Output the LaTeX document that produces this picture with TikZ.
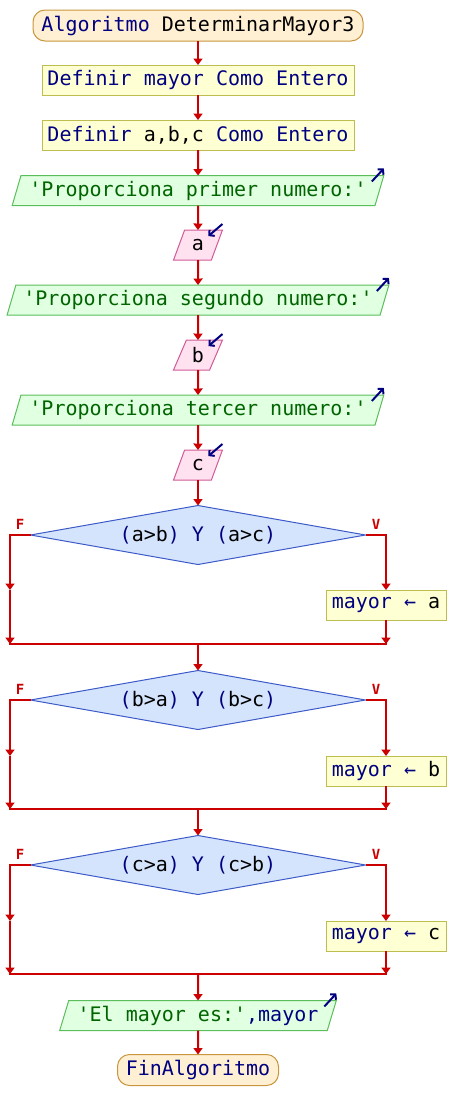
\documentclass[tikz,border=0pt]{standalone}
\usepackage{fontspec}
\setmonofont{DejaVu Sans Mono}
\usetikzlibrary{shapes.geometric,arrows.meta}
\definecolor{kwc}{RGB}{0,0,128}
\definecolor{strc}{RGB}{0,100,0}
\definecolor{flowc}{RGB}{204,0,0}
\definecolor{termf}{RGB}{255,240,212}
\definecolor{termd}{RGB}{200,150,60}
\definecolor{procf}{RGB}{255,255,212}
\definecolor{procd}{RGB}{190,190,80}
\definecolor{outf}{RGB}{225,255,225}
\definecolor{outd}{RGB}{90,190,90}
\definecolor{inpf}{RGB}{255,225,240}
\definecolor{inpd}{RGB}{210,90,150}
\definecolor{condf}{RGB}{212,228,252}
\definecolor{condd}{RGB}{60,90,200}
\newcommand\kw[1]{\textcolor{kwc}{#1}}
\newcommand\strg[1]{\textcolor{strc}{#1}}
\begin{document}
\begin{tikzpicture}[x=1pt,y=-1pt,
  font=\ttfamily\fontsize{20}{22}\selectfont,
  base/.style={inner sep=0pt, outer sep=0pt, line width=1pt, text=black},
  term/.style={base, draw=termd, fill=termf, rounded corners=12pt, minimum height=31pt},
  proc/.style={base, draw=procd, fill=procf, minimum height=30pt},
  outp/.style={base, trapezium, trapezium left angle=66.6, trapezium right angle=113.4,
    trapezium stretches=true, draw=outd, fill=outf, minimum height=30pt},
  inp/.style={base, trapezium, trapezium left angle=66.6, trapezium right angle=113.4,
    trapezium stretches=true, draw=inpd, fill=inpf, minimum height=30pt},
  cond/.style={base, diamond, aspect=5.7, draw=condd, fill=condf,
    minimum width=335pt, minimum height=59pt},
  flow/.style={draw=flowc, line width=2pt, -{Triangle[width=9pt,length=6.5pt]}},
  joinline/.style={draw=flowc, line width=2pt, line cap=rect},
  iconarr/.style={draw=kwc, line width=2pt, -{Straight Barb[length=3.5pt,width=8pt]}},
  lbl/.style={text=flowc, font=\ttfamily\bfseries\fontsize{14}{14}\selectfont}
]
\useasboundingbox (0,0) rectangle (456,1120);

\node[term, minimum width=330pt] (start) at (198,25.5) {\kw{Algoritmo} DeterminarMayor3};
\node[proc, minimum width=312pt] (d1) at (198,80) {\kw{Definir mayor Como Entero}};
\node[proc, minimum width=312pt] (d2) at (198,135) {\kw{Definir} a,b,c \kw{Como Entero}};
\node[outp, minimum width=372pt] (o1) at (198,190.5) {\strg{'Proporciona primer numero:'}};
\node[inp, minimum width=49pt] (i1) at (198,245) {a};
\node[outp, minimum width=384pt] (o2) at (198,300) {\strg{'Proporciona segundo numero:'}};
\node[inp, minimum width=49pt] (i2) at (198,355) {b};
\node[outp, minimum width=372pt] (o3) at (198,410) {\strg{'Proporciona tercer numero:'}};
\node[inp, minimum width=49pt] (i3) at (198,465) {c};

\node[cond] (q1) at (198,535) {\kw{(}a>b\kw{) Y (}a>c\kw{)}};
\node[proc, minimum width=120pt] (r1) at (386,605) {\kw{mayor ←} a};
\node[cond] (q2) at (198,700) {\kw{(}b>a\kw{) Y (}b>c\kw{)}};
\node[proc, minimum width=120pt] (r2) at (386,771) {\kw{mayor ←} b};
\node[cond] (q3) at (198,865) {\kw{(}c>a\kw{) Y (}c>b\kw{)}};
\node[proc, minimum width=120pt] (r3) at (386,936) {\kw{mayor ←} c};

\node[outp, minimum width=277pt] (of) at (198,1015.5) {\strg{'El mayor es:'}\kw{,mayor}};
\node[term, minimum width=161pt] (fin) at (198,1070) {\kw{FinAlgoritmo}};

\node[lbl] (f1) at (20,524) {F};
\node[lbl] (v1) at (376,524) {V};
\node[lbl] (f2) at (20,689) {F};
\node[lbl] (v2) at (376,689) {V};
\node[lbl] (f3) at (20,854) {F};
\node[lbl] (v3) at (376,854) {V};

% straight flow
\draw[flow] (start.south) -- (d1.north);
\draw[flow] (d1.south) -- (d2.north);
\draw[flow] (d2.south) -- (o1.north);
\draw[flow] (o1.south) -- (i1.north);
\draw[flow] (i1.south) -- (o2.north);
\draw[flow] (o2.south) -- (i2.north);
\draw[flow] (i2.south) -- (o3.north);
\draw[flow] (o3.south) -- (i3.north);
\draw[flow] (i3.south) -- (q1.north);

% decision 1
\coordinate (L1a) at (10,590);
\coordinate (L1b) at (10,644);
\coordinate (R1b) at (386,644);
\coordinate (M1) at (198,644);
\draw[flow] (q1.west) -| (L1a);
\draw[flow] (L1a) -- (L1b);
\draw[flow] (q1.east) -| (r1.north);
\draw[flow] (r1.south) -- (R1b);
\draw[joinline] (L1b) -- (R1b);
\draw[flow] (M1) -- (q2.north);

% decision 2
\coordinate (L2a) at (10,756);
\coordinate (L2b) at (10,809);
\coordinate (R2b) at (386,809);
\coordinate (M2) at (198,809);
\draw[flow] (q2.west) -| (L2a);
\draw[flow] (L2a) -- (L2b);
\draw[flow] (q2.east) -| (r2.north);
\draw[flow] (r2.south) -- (R2b);
\draw[joinline] (L2b) -- (R2b);
\draw[flow] (M2) -- (q3.north);

% decision 3
\coordinate (L3a) at (10,921);
\coordinate (L3b) at (10,974);
\coordinate (R3b) at (386,974);
\coordinate (M3) at (198,974);
\draw[flow] (q3.west) -| (L3a);
\draw[flow] (L3a) -- (L3b);
\draw[flow] (q3.east) -| (r3.north);
\draw[flow] (r3.south) -- (R3b);
\draw[joinline] (L3b) -- (R3b);
\draw[flow] (M3) -- (of.north);
\draw[flow] (of.south) -- (fin.north);

% io icons
\draw[iconarr] ([shift={(-12,6)}]o1.top right corner) -- ([shift={(0,-7)}]o1.top right corner);
\draw[iconarr] ([shift={(-12,6)}]o2.top right corner) -- ([shift={(0,-7)}]o2.top right corner);
\draw[iconarr] ([shift={(-12,6)}]o3.top right corner) -- ([shift={(0,-7)}]o3.top right corner);
\draw[iconarr] ([shift={(-12,6)}]of.top right corner) -- ([shift={(0,-7)}]of.top right corner);
\draw[iconarr] ([shift={(0,-6)}]i1.top right corner) -- ([shift={(-14,6)}]i1.top right corner);
\draw[iconarr] ([shift={(0,-6)}]i2.top right corner) -- ([shift={(-14,6)}]i2.top right corner);
\draw[iconarr] ([shift={(0,-6)}]i3.top right corner) -- ([shift={(-14,6)}]i3.top right corner);
\end{tikzpicture}
\end{document}
